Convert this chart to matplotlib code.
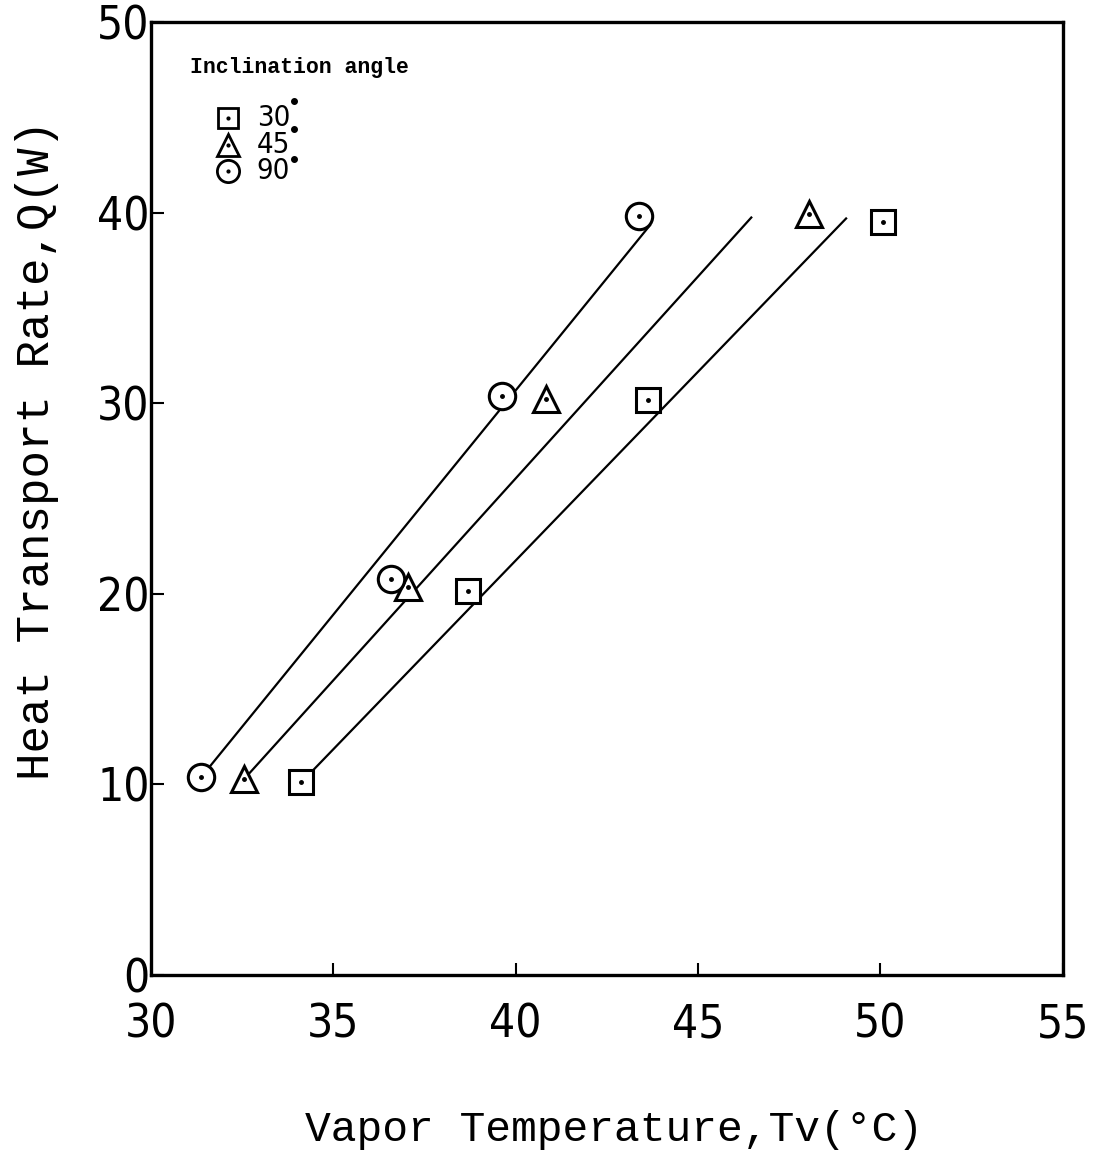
import numpy as np
import matplotlib
matplotlib.use('Agg')
import matplotlib.pyplot as plt

# Vapor temperature (C) and heat transport rate (W) per inclination angle
angles = ['30', '45', '90']
markers = ['s', '^', 'o']

temp_30 = [34.12, 38.68, 43.63, 50.08]
q_30 = [10.1, 20.16, 30.16, 39.53]

temp_45 = [32.55, 37.06, 40.82, 48.04]
q_45 = [10.27, 20.37, 30.2, 39.9]

temp_90 = [31.38, 36.59, 39.62, 43.38]
q_90 = [10.39, 20.8, 30.36, 39.84]

# drawn trend lines (start, end)
line_30_t = [34.12, 49.06]
line_30_q = [10.1, 39.69]
line_45_t = [32.55, 46.46]
line_45_q = [10.27, 39.74]
line_90_t = [31.38, 43.68]
line_90_q = [10.39, 39.33]

x_ticks = [30, 35, 40, 45, 50, 55]
y_ticks = [0, 10, 20, 30, 40, 50]

tick_font = dict(family='DejaVu Sans', stretch='condensed')
mono_font = ['Liberation Mono', 'DejaVu Sans Mono']

fig = plt.figure(figsize=(10.99, 11.56), dpi=100)
ax = fig.add_axes([0.1374, 0.1566, 0.8296, 0.8244])

series = [
    (temp_30, q_30, line_30_t, line_30_q, 's', 17),
    (temp_45, q_45, line_45_t, line_45_q, '^', 19),
    (temp_90, q_90, line_90_t, line_90_q, 'o', 19),
]
for t, q, lt, lq, m, ms in series:
    ax.plot(lt, lq, color='black', lw=1.6, zorder=2)
    ax.plot(t, q, linestyle='none', marker=m, ms=ms, mfc='white', mec='black',
            mew=2.2, zorder=3)
    ax.plot(t, q, linestyle='none', marker='o', ms=2.5, color='black', zorder=4)

ax.set_xlim(30, 55)
ax.set_ylim(0, 50)
ax.set_xticks(x_ticks)
ax.set_yticks(y_ticks)
ax.set_xticklabels([str(v) for v in x_ticks], fontsize=33, **tick_font)
ax.set_yticklabels([str(v) for v in y_ticks], fontsize=33, **tick_font)
ax.tick_params(direction='in', length=9, width=1.5)
ax.tick_params(axis='x', pad=20)
ax.tick_params(axis='y', pad=1)
for s in ax.spines.values():
    s.set_linewidth(2.4)

ax.set_xlabel('Vapor Temperature,Tv(\u00b0C)', family=mono_font, fontsize=31,
              va='center')
ax.set_ylabel('Heat Transport Rate,Q(W)', family=mono_font, fontsize=33,
              va='center')
ax.xaxis.set_label_coords(0.508, -0.163)
ax.yaxis.set_label_coords(-0.125, 0.551)

# legend block
ax.text(0.043, 0.952, 'Inclination angle', transform=ax.transAxes, family=mono_font,
        fontsize=15.5, fontweight='bold', va='center', ha='left')
leg_y = [0.8993, 0.871, 0.8436]
dot_y = [0.917, 0.888, 0.856]
leg_ms = [15, 16, 16]
for i, (a, m) in enumerate(zip(angles, markers)):
    ax.plot([0.085], [leg_y[i]], transform=ax.transAxes, marker=m, ms=leg_ms[i],
            mfc='white', mec='black', mew=2, clip_on=False)
    ax.plot([0.085], [leg_y[i]], transform=ax.transAxes, marker='o', ms=2,
            color='black', clip_on=False)
    ax.text(0.116, leg_y[i], a, transform=ax.transAxes, fontsize=21,
            va='center', ha='left', **tick_font)
    ax.plot([0.157], [dot_y[i]], transform=ax.transAxes, marker='o',
            ms=4, color='black', clip_on=False)

fig.savefig('out.png', dpi=100)
